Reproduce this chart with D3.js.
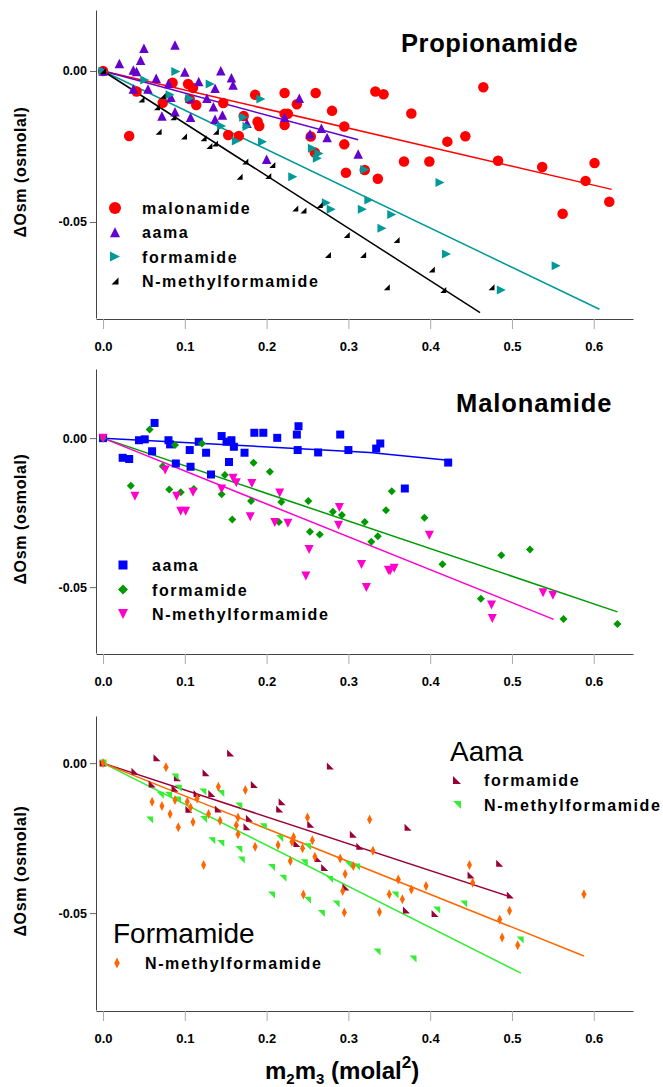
<!DOCTYPE html>
<html>
<head>
<meta charset="utf-8">
<script src="https://cdn.jsdelivr.net/npm/d3@7"></script>
<style>
  body { margin: 0; background: #fff; }
  text { font-family: "Liberation Sans", Arial, sans-serif; }
</style>
</head>
<body>
<svg id="chart" width="663" height="1087"></svg>
<script>
//////////////////////////////////////////////
// Data //////////////////////////////////////
//////////////////////////////////////////////
// [m2m3, dOsm]

var xTicks = [0, 0.1, 0.2, 0.3, 0.4, 0.5, 0.6];
var yTicks = [0, -0.05];

// Propionamide panel
var propMalonamide = [[0,0],[0.032,-0.0215],[0.041,-0.0068],[0.073,-0.0105],[0.085,-0.0039],[0.104,-0.0043],[0.110,-0.0056],[0.106,-0.0093],[0.114,-0.0113],[0.147,-0.0106],[0.153,-0.0212],[0.166,-0.0215],[0.172,-0.0149],[0.186,-0.0079],[0.189,-0.0168],[0.191,-0.0182],[0.222,-0.0073],[0.237,-0.011],[0.222,-0.0142],[0.226,-0.0142],[0.222,-0.0179],[0.260,-0.0073],[0.254,-0.0217],[0.259,-0.027],[0.280,-0.0132],[0.295,-0.0184],[0.295,-0.0243],[0.297,-0.0337],[0.320,-0.0328],[0.333,-0.0068],[0.343,-0.0077],[0.377,-0.0141],[0.336,-0.0357],[0.368,-0.030],[0.399,-0.030],[0.421,-0.0234],[0.443,-0.0216],[0.465,-0.0054],[0.483,-0.0297],[0.537,-0.0318],[0.562,-0.0473],[0.590,-0.0364],[0.601,-0.0305],[0.619,-0.0433]];
var propAama = [[0,0],[0.020,0.0025],[0.050,0.0075],[0.046,0.0036],[0.037,0.0003],[0.041,-0.0002],[0.088,0.0086],[0.065,-0.0024],[0.055,-0.006],[0.037,-0.006],[0.100,-0.0003],[0.117,-0.0035],[0.080,-0.0041],[0.083,-0.0087],[0.072,-0.0149],[0.088,-0.0135],[0.107,-0.0153],[0.106,-0.009],[0.137,-0.0057],[0.144,0.0001],[0.157,-0.0022],[0.159,-0.0046],[0.127,-0.009],[0.135,-0.0118],[0.146,-0.0146],[0.137,-0.016],[0.176,-0.0173],[0.200,-0.0292],[0.240,-0.009],[0.222,-0.0153],[0.253,-0.0209],[0.267,-0.019],[0.274,-0.022],[0.312,-0.0275]];
var propFormamide = [[0,0],[0.089,-0.0002],[0.131,-0.0043],[0.051,-0.003],[0.082,-0.0079],[0.106,-0.009],[0.193,-0.0093],[0.172,-0.0153],[0.176,-0.0184],[0.145,-0.0182],[0.163,-0.0232],[0.195,-0.0234],[0.256,-0.0256],[0.264,-0.0273],[0.262,-0.0289],[0.320,-0.0326],[0.232,-0.035],[0.273,-0.0436],[0.279,-0.0458],[0.317,-0.0458],[0.325,-0.0427],[0.412,-0.0369],[0.353,-0.0475],[0.341,-0.0521],[0.420,-0.0606],[0.554,-0.0645],[0.487,-0.0725]];
var propNMF = [[0,0],[0.047,-0.0094],[0.073,-0.0083],[0.066,-0.012],[0.086,-0.0153],[0.068,-0.0201],[0.099,-0.0217],[0.123,-0.0223],[0.130,-0.0248],[0.137,-0.024],[0.138,-0.0201],[0.174,-0.030],[0.207,-0.0311],[0.202,-0.0348],[0.167,-0.035],[0.235,-0.0455],[0.245,-0.0462],[0.265,-0.0444],[0.298,-0.0543],[0.275,-0.0609],[0.318,-0.0609],[0.359,-0.056],[0.402,-0.0657],[0.416,-0.0725],[0.347,-0.0716],[0.475,-0.0716]];

// Malonamide panel
var malAama = [[0,0],[0.063,0.0051],[0.044,-0.0007],[0.051,-0.0004],[0.024,-0.0066],[0.032,-0.007],[0.060,-0.0044],[0.080,-0.0007],[0.082,-0.0021],[0.089,-0.0085],[0.106,-0.004],[0.107,-0.0096],[0.117,-0.0012],[0.126,-0.0049],[0.132,-0.0122],[0.145,0.0007],[0.151,-0.0012],[0.157,-0.0007],[0.160,-0.0029],[0.154,-0.008],[0.173,-0.0049],[0.185,0.0018],[0.196,0.0018],[0.213,0.0001],[0.237,0.0012],[0.239,0.004],[0.238,-0.004],[0.263,-0.0048],[0.290,0.0012],[0.300,-0.004],[0.334,-0.0035],[0.339,-0.0018],[0.422,-0.0082],[0.369,-0.0169]];
var malFormamide = [[0,0],[0.057,0.0029],[0.088,-0.0023],[0.121,-0.0018],[0.073,-0.0094],[0.034,-0.016],[0.081,-0.0172],[0.095,-0.0182],[0.111,-0.0171],[0.145,-0.0188],[0.149,-0.0124],[0.184,-0.0083],[0.204,-0.0113],[0.181,-0.0211],[0.158,-0.0273],[0.218,-0.0214],[0.215,-0.0281],[0.251,-0.0211],[0.281,-0.0247],[0.292,-0.0258],[0.253,-0.0314],[0.265,-0.0323],[0.320,-0.0281],[0.353,-0.0178],[0.346,-0.0242],[0.393,-0.0267],[0.328,-0.0348],[0.336,-0.0329],[0.415,-0.0423],[0.487,-0.0393],[0.522,-0.0374],[0.462,-0.0539],[0.563,-0.0607],[0.629,-0.0624]];
var malNMF = [[0,0],[0.076,-0.0107],[0.039,-0.0195],[0.090,-0.0195],[0.095,-0.0245],[0.101,-0.0245],[0.110,-0.0182],[0.145,-0.0171],[0.159,-0.0135],[0.163,-0.015],[0.182,-0.0152],[0.216,-0.0184],[0.180,-0.0264],[0.210,-0.0283],[0.226,-0.0286],[0.289,-0.0233],[0.288,-0.0292],[0.252,-0.0374],[0.248,-0.0463],[0.316,-0.0424],[0.322,-0.0501],[0.349,-0.0443],[0.399,-0.0326],[0.351,-0.0445],[0.356,-0.0437],[0.475,-0.056],[0.476,-0.0605],[0.538,-0.0519],[0.550,-0.0527]];

// Aama / Formamide panel
var aamaFormamide = [[0,0],[0.066,0.0018],[0.156,0.0034],[0.278,-0.001],[0.126,-0.0032],[0.039,-0.0027],[0.060,-0.007],[0.091,-0.0049],[0.088,-0.0084],[0.115,-0.0101],[0.133,-0.0101],[0.185,-0.0071],[0.219,-0.0129],[0.216,-0.0153],[0.105,-0.0154],[0.141,-0.0153],[0.179,-0.0184],[0.176,-0.0212],[0.254,-0.0204],[0.306,-0.0237],[0.314,-0.0277],[0.237,-0.0268],[0.263,-0.0318],[0.271,-0.0348],[0.297,-0.0413],[0.373,-0.0214],[0.485,-0.0334],[0.450,-0.0373],[0.371,-0.049],[0.406,-0.0501],[0.498,-0.044]];
var aamaNMF = [[0,0],[0.088,-0.0046],[0.092,-0.0084],[0.070,-0.0107],[0.080,-0.0107],[0.091,-0.0123],[0.057,-0.019],[0.122,-0.0096],[0.144,-0.0101],[0.166,-0.0143],[0.123,-0.0188],[0.196,-0.0212],[0.216,-0.0251],[0.133,-0.0259],[0.144,-0.0268],[0.166,-0.0288],[0.169,-0.0323],[0.206,-0.0348],[0.220,-0.0384],[0.250,-0.0279],[0.246,-0.0332],[0.277,-0.0388],[0.300,-0.034],[0.310,-0.0346],[0.206,-0.044],[0.250,-0.0457],[0.267,-0.0501],[0.285,-0.047],[0.357,-0.044],[0.408,-0.049],[0.441,-0.047],[0.510,-0.059],[0.335,-0.063],[0.379,-0.0653]];
var formNMF = [[0,0],[0.077,-0.0014],[0.141,-0.0079],[0.174,-0.009],[0.060,-0.0129],[0.072,-0.0143],[0.082,-0.017],[0.092,-0.0214],[0.088,-0.0123],[0.103,-0.0129],[0.115,-0.0118],[0.107,-0.0148],[0.110,-0.0196],[0.129,-0.017],[0.143,-0.0192],[0.165,-0.0181],[0.163,-0.0207],[0.165,-0.0237],[0.123,-0.034],[0.186,-0.0279],[0.214,-0.0273],[0.233,-0.0246],[0.231,-0.0262],[0.256,-0.0257],[0.250,-0.0181],[0.244,-0.0284],[0.229,-0.0326],[0.259,-0.0312],[0.290,-0.0318],[0.306,-0.0343],[0.296,-0.037],[0.326,-0.0188],[0.330,-0.0292],[0.448,-0.034],[0.452,-0.0399],[0.395,-0.041],[0.361,-0.0388],[0.293,-0.0426],[0.295,-0.0498],[0.338,-0.0496],[0.350,-0.0437],[0.366,-0.0454],[0.377,-0.0421],[0.497,-0.0492],[0.485,-0.0521],[0.488,-0.0581],[0.507,-0.0607],[0.588,-0.0437],[0.245,-0.0438]];

// fitted lines (from origin)
var propMalonamideFit = [[0,0],[0.622,-0.0392]];
var propAamaFit = [[0,0],[0.312,-0.0228]];
var propFormamideFit = [[0,0],[0.607,-0.0789]];
var propNMFFit = [[0,0],[0.461,-0.080]];
var malAamaFit = [[0,0],[0.326,-0.0048],[0.422,-0.0074]];
var malFormamideFit = [[0,0],[0.629,-0.0583]];
var malNMFFit = [[0,0],[0.551,-0.0608]];
var aamaFormamideFit = [[0,0],[0.498,-0.0446]];
var aamaNMFFit = [[0,0],[0.511,-0.070]];
var formNMFFit = [[0,0],[0.588,-0.0643]];

//////////////////////////////////////////////
// Chart Config /////////////////////////////
//////////////////////////////////////////////
var svg = d3.select("#chart");

var xScale = d3.scaleLinear().domain([-0.0086, 0.648]).range([96, 633]);

// marker shapes, centred at 0,0
function shape(kind, s) {
  var h = s / 2;
  switch (kind) {
    case "circle": return d3.symbol(d3.symbolCircle, Math.PI * h * h)();
    case "square": return "M" + -h + "," + -h + "h" + s + "v" + s + "h" + -s + "Z";
    case "up": return "M0," + (-h) + "L" + h + "," + h + "L" + (-h) + "," + h + "Z";
    case "down": return "M" + (-h) + "," + (-h) + "L" + h + "," + (-h) + "L0," + h + "Z";
    case "right": return "M" + (-h) + "," + (-h) + "L" + h + ",0L" + (-h) + "," + h + "Z";
    case "diamond": return "M0," + (-h) + "L" + h + ",0L0," + h + "L" + (-h) + ",0Z";
    case "tallDiamond": return "M0," + (-h) + "L" + (h * 0.5) + ",0L0," + h + "L" + (-h * 0.5) + ",0Z";
    case "lr": return "M" + h + "," + (-h) + "L" + h + "," + h + "L" + (-h) + "," + h + "Z";   // ◢
    case "ll": return "M" + (-h) + "," + (-h) + "L" + h + "," + h + "L" + (-h) + "," + h + "Z"; // ◣
    case "ur": return "M" + (-h) + "," + (-h) + "L" + h + "," + (-h) + "L" + h + "," + h + "Z"; // ◥
  }
}

var panels = [
  { top: 10, bottom: 318, yDomain: [-0.0818, 0.0202],
    series: [
      { data: propMalonamide, fit: propMalonamideFit, color: "#ff0000", kind: "circle", size: 10.5 },
      { data: propAama, fit: propAamaFit, color: "#6600cc", kind: "up", size: 9.5 },
      { data: propFormamide, fit: propFormamideFit, color: "#009999", kind: "right", size: 9 },
      { data: propNMF, fit: propNMFFit, color: "#000000", kind: "lr", size: 6 }
    ] },
  { top: 369, bottom: 653, yDomain: [-0.0721, 0.0232],
    series: [
      { data: malAama, fit: malAamaFit, color: "#0000ff", kind: "square", size: 8 },
      { data: malFormamide, fit: malFormamideFit, color: "#009900", kind: "diamond", size: 8 },
      { data: malNMF, fit: malNMFFit, color: "#ff00cc", kind: "down", size: 9 }
    ] },
  { top: 716, bottom: 1010, yDomain: [-0.0823, 0.0157],
    series: [
      { data: aamaFormamide, fit: aamaFormamideFit, color: "#990033", kind: "ll", size: 7 },
      { data: aamaNMF, fit: aamaNMFFit, color: "#33ee33", kind: "ur", size: 7 },
      { data: formNMF, fit: formNMFFit, color: "#ff6600", kind: "tallDiamond", size: 10 }
    ] }
];

//////////////////////////////////////////////
// Drawing ///////////////////////////////////
//////////////////////////////////////////////
panels.forEach(function(p) {
  var yScale = d3.scaleLinear().domain(p.yDomain).range([p.bottom, p.top]);

  var xAxis = d3.axisBottom(xScale).tickValues(xTicks).tickSize(10).tickSizeOuter(0)
    .tickFormat(function(d) { return d.toFixed(1); });
  var yAxis = d3.axisLeft(yScale).tickValues(yTicks).tickSize(6).tickSizeOuter(0)
    .tickFormat(function(d) { return d.toFixed(2); });

  var xg = svg.append("g").attr("transform", "translate(0," + (p.bottom + 1) + ")").call(xAxis);
  xg.select(".domain").attr("stroke", "#444");
  xg.selectAll(".tick line").attr("stroke", "#aaa");
  xg.selectAll(".tick text").attr("dy", "1.45em").attr("font-size", "13px").attr("font-weight", "bold").attr("fill", "#000");

  var yg = svg.append("g").attr("transform", "translate(96,0)").call(yAxis);
  yg.select(".domain").attr("stroke", "#444");
  yg.selectAll(".tick line").attr("stroke", "#666");
  yg.selectAll(".tick text").attr("x", -9).attr("font-size", "12.5px").attr("font-weight", "bold").attr("fill", "#000");

  var line = d3.line()
    .x(function(d) { return xScale(d[0]); })
    .y(function(d) { return yScale(d[1]); });

  p.series.forEach(function(s) {
    svg.append("path").datum(s.fit)
      .attr("d", line)
      .style("fill", "none")
      .style("stroke", s.color)
      .style("stroke-width", "1.5px");
  });

  p.series.forEach(function(s) {
    svg.append("g").selectAll("path").data(s.data).enter().append("path")
      .attr("transform", function(d) { return "translate(" + xScale(d[0]) + "," + yScale(d[1]) + ")"; })
      .attr("d", shape(s.kind, s.size))
      .style("fill", s.color);
  });

  // y axis title
  svg.append("text")
    .attr("transform", "translate(26," + ((p.top + p.bottom) / 2 + 8) + ") rotate(-90)")
    .attr("text-anchor", "middle")
    .attr("font-size", "16px")
    .attr("font-weight", "bold")
    .attr("letter-spacing", "0.6px")
    .text("\u0394Osm (osmolal)");
});

// panel titles
svg.append("text").attr("x", 401).attr("y", 52).attr("font-size", "25.5px").attr("font-weight", "bold")
  .attr("letter-spacing", "0.6px").text("Propionamide");
svg.append("text").attr("x", 456).attr("y", 412).attr("font-size", "25.5px").attr("font-weight", "bold")
  .attr("letter-spacing", "0.9px").text("Malonamide");
svg.append("text").attr("x", 450).attr("y", 761).attr("font-size", "28px").text("Aama");
svg.append("text").attr("x", 113).attr("y", 943).attr("font-size", "28px").text("Formamide");

// legends
var legends = [
  { mx: 115, tx: 142, y0: 208, dy: 24.3, items: [["malonamide", "#ff0000", "circle", 12], ["aama", "#6600cc", "up", 10], ["formamide", "#009999", "right", 10], ["N-methylformamide", "#000000", "lr", 7]] },
  { mx: 123, tx: 152, y0: 565, dy: 24.5, items: [["aama", "#0000ff", "square", 9], ["formamide", "#009900", "diamond", 10], ["N-methylformamide", "#ff00cc", "down", 10]] },
  { mx: 457, tx: 484, y0: 780, dy: 25, items: [["formamide", "#990033", "ll", 8], ["N-methylformamide", "#33ee33", "ur", 8]] },
  { mx: 117, tx: 145, y0: 963, dy: 24, items: [["N-methylformamide", "#ff6600", "tallDiamond", 11]] }
];
legends.forEach(function(lg) {
  lg.items.forEach(function(it, i) {
    var y = lg.y0 + i * lg.dy;
    svg.append("path").attr("transform", "translate(" + lg.mx + "," + y + ")")
      .attr("d", shape(it[2], it[3])).style("fill", it[1]);
    svg.append("text").attr("x", lg.tx).attr("y", y + 6)
      .attr("font-size", "16px").attr("font-weight", "bold").attr("letter-spacing", "1.6px")
      .text(it[0]);
  });
});

// x axis title
var xt = svg.append("text").attr("x", 265).attr("y", 1079).attr("font-size", "24px").attr("font-weight", "bold");
xt.append("tspan").text("m");
xt.append("tspan").attr("font-size", "15px").attr("dy", 5).text("2");
xt.append("tspan").attr("dy", -5).text("m");
xt.append("tspan").attr("font-size", "15px").attr("dy", 5).text("3");
xt.append("tspan").attr("dy", -5).text(" (molal");
xt.append("tspan").attr("font-size", "17px").attr("dy", -11).text("2");
xt.append("tspan").attr("dy", 11).text(")");
</script>
</body>
</html>
